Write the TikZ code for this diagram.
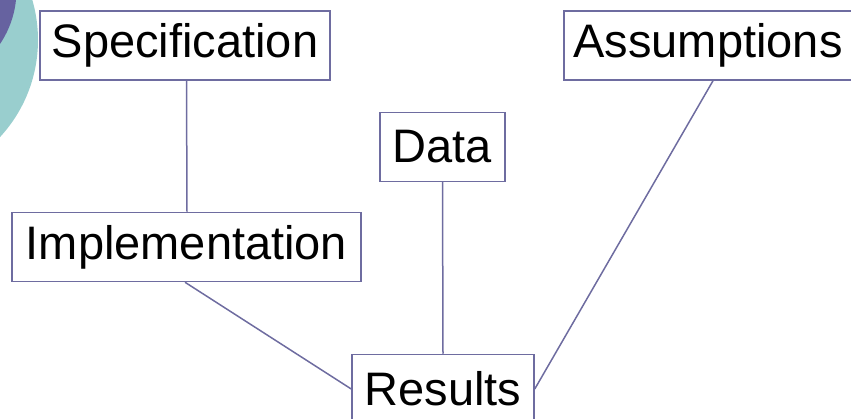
\documentclass[tikz,border=0pt]{standalone}
\usepackage{fontspec}
\setmainfont{Liberation Sans}
\definecolor{tealc}{RGB}{153,206,206}
\definecolor{purplec}{RGB}{102,98,160}
\definecolor{edgec}{RGB}{110,108,160}
\begin{document}
\begin{tikzpicture}[x=1pt,y=1pt,
  box/.style={draw=edgec, line width=1.5pt, fill=white, inner sep=0pt,
    minimum height=69pt, font=\fontsize{47}{50}\selectfont, anchor=center},
  link/.style={draw=edgec, line width=1.5pt}]
\useasboundingbox (0,0) rectangle (851,-419);
\begin{scope}
\clip (0,0) rectangle (851,-419);
\fill[tealc] (-105,-40) circle (143);
\fill[purplec] (-80,10) circle (96.5);
\end{scope}
\node[box, minimum width=290pt] (spec) at (185,-45.5) {Specification};
\node[box, minimum width=288pt] (assump) at (708,-45.5) {Assumptions};
\node[box, minimum width=125pt] (data) at (442.5,-147) {Data};
\node[box, minimum width=349pt] (impl) at (186.5,-247) {Implementation};
\node[box, minimum width=182pt] (res) at (443,-389) {Results};
\draw[link] ([xshift=1.5pt]spec.south) -- ([xshift=0.5pt]impl.north);
\draw[link] ([xshift=-1.5pt]impl.south) -- (res.west);
\draw[link] (data.south) -- (res.north);
\draw[link] ([xshift=5pt]assump.south) -- (res.east);
\end{tikzpicture}
\end{document}
